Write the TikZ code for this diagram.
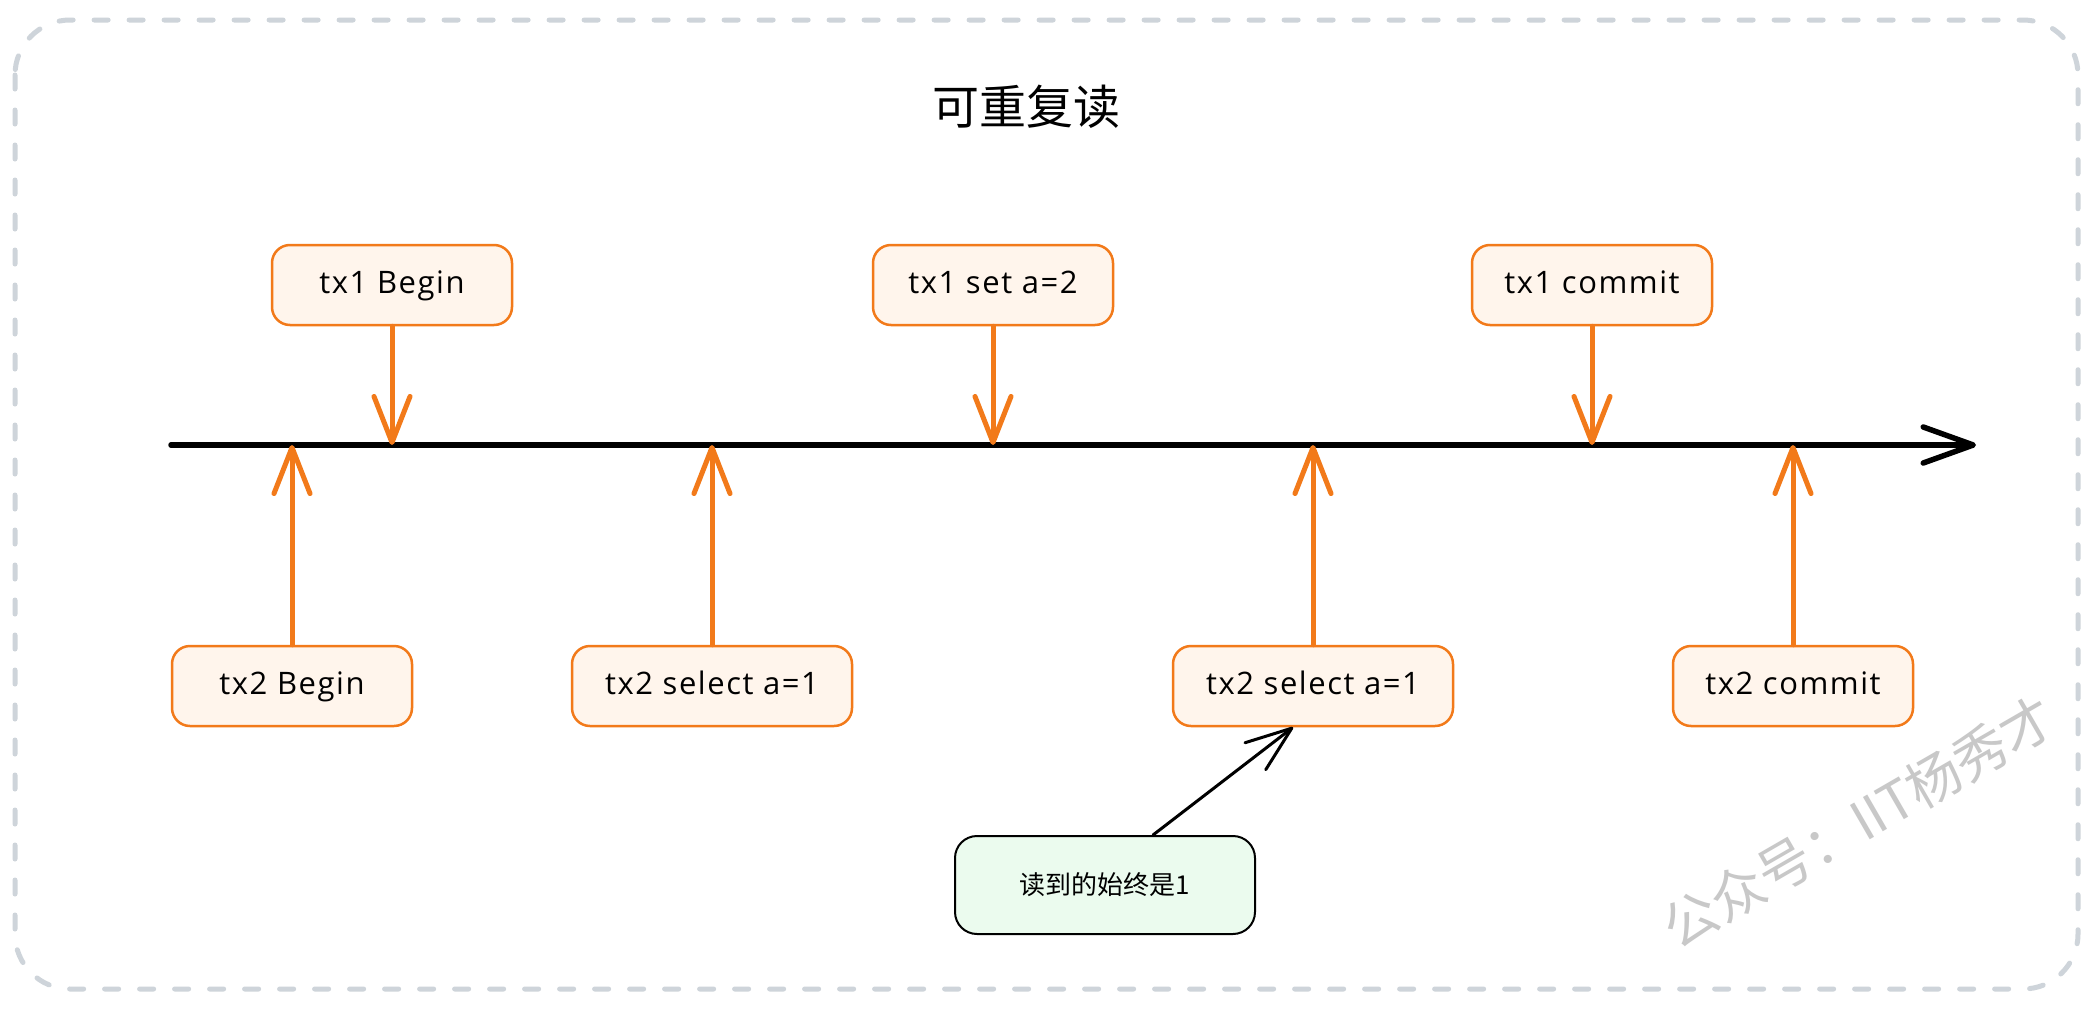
\documentclass[tikz,border=0pt]{standalone}
\usepackage{fontspec}
\setmainfont{Open Sans}[LetterSpace=5]
\newfontfamily\cjk{Noto Sans CJK SC}
\usetikzlibrary{arrows.meta}
\definecolor{framec}{HTML}{CED4DA}
\definecolor{orng}{HTML}{F27A1A}
\definecolor{boxfill}{HTML}{FFF5EC}
\definecolor{greenfill}{HTML}{EBFBEE}
\definecolor{wmc}{HTML}{C8C8C8}
\begin{document}
\begin{tikzpicture}[x=1pt,y=-1pt,
  evt/.style={draw=orng, line width=2.5pt, fill=boxfill, rounded corners=18pt,
    minimum height=80pt, inner sep=0pt, text height=23pt, text depth=7pt,
    font=\fontsize{31pt}{36pt}\selectfont},
  evtw/.style={evt, minimum width=240pt},
  evtww/.style={evt, minimum width=280pt},
  oarr/.style={draw=orng, line width=5pt, line cap=round,
    -{Straight Barb[length=46pt,width=36pt,round]}},
  notebox/.style={draw=black, line width=2pt, fill=greenfill, rounded corners=22pt,
    minimum width=300pt, minimum height=98pt, inner sep=0pt,
    font=\cjk\fontsize{26pt}{30pt}\selectfont},
]
\useasboundingbox (0,0) rectangle (2097,1009);
\fill[white] (0,0) rectangle (2097,1009);
% frame
\draw[framec, line width=5pt, dash pattern=on 14pt off 21pt, line cap=round,
  rounded corners=55pt] (15,20) rectangle (2078,989);
% title
\node (title) at (1026,107) {\cjk\fontsize{47pt}{54pt}\selectfont 可重复读};
% boxes
\node[evtw] (top1) at (392,285) {tx1 Begin};
\node[evtw] (top2) at (993,285) {tx1 set a=2};
\node[evtw] (top3) at (1592,285) {tx1 commit};
\node[evtw] (bot1) at (292,686) {tx2 Begin};
\node[evtww] (bot2) at (712,686) {tx2 select a=1};
\node[evtww] (bot3) at (1313,686) {tx2 select a=1};
\node[evtw] (bot4) at (1793,686) {tx2 commit};
% timeline
\coordinate (ts) at (171,445);
\coordinate (te) at (1976,445);
\draw[line width=5.5pt, line cap=round, -{Straight Barb[length=50pt,width=36pt,round]}] (ts) -- (te);
% orange arrows
\draw[oarr] (top1.south) -- (top1.south |- ts);
\draw[oarr] (top2.south) -- (top2.south |- ts);
\draw[oarr] (top3.south) -- (top3.south |- ts);
\draw[oarr] (bot1.north) -- (bot1.north |- ts);
\draw[oarr] (bot2.north) -- (bot2.north |- ts);
\draw[oarr] (bot3.north) -- (bot3.north |- ts);
\draw[oarr] (bot4.north) -- (bot4.north |- ts);
% note
\node[notebox] (note) at (1105,885) {读到的始终是1};
\draw[line width=3pt, line cap=round, -{Straight Barb[length=46pt,width=34pt,round]}]
  ([xshift=48pt]note.north) -- ([xshift=-20pt]bot3.south);
% watermark
\node[rotate=30, text=wmc, font=\cjk\fontsize{54pt}{60pt}\selectfont] (wm) at (1859,822) {公众号：IIT杨秀才};
\end{tikzpicture}
\end{document}
